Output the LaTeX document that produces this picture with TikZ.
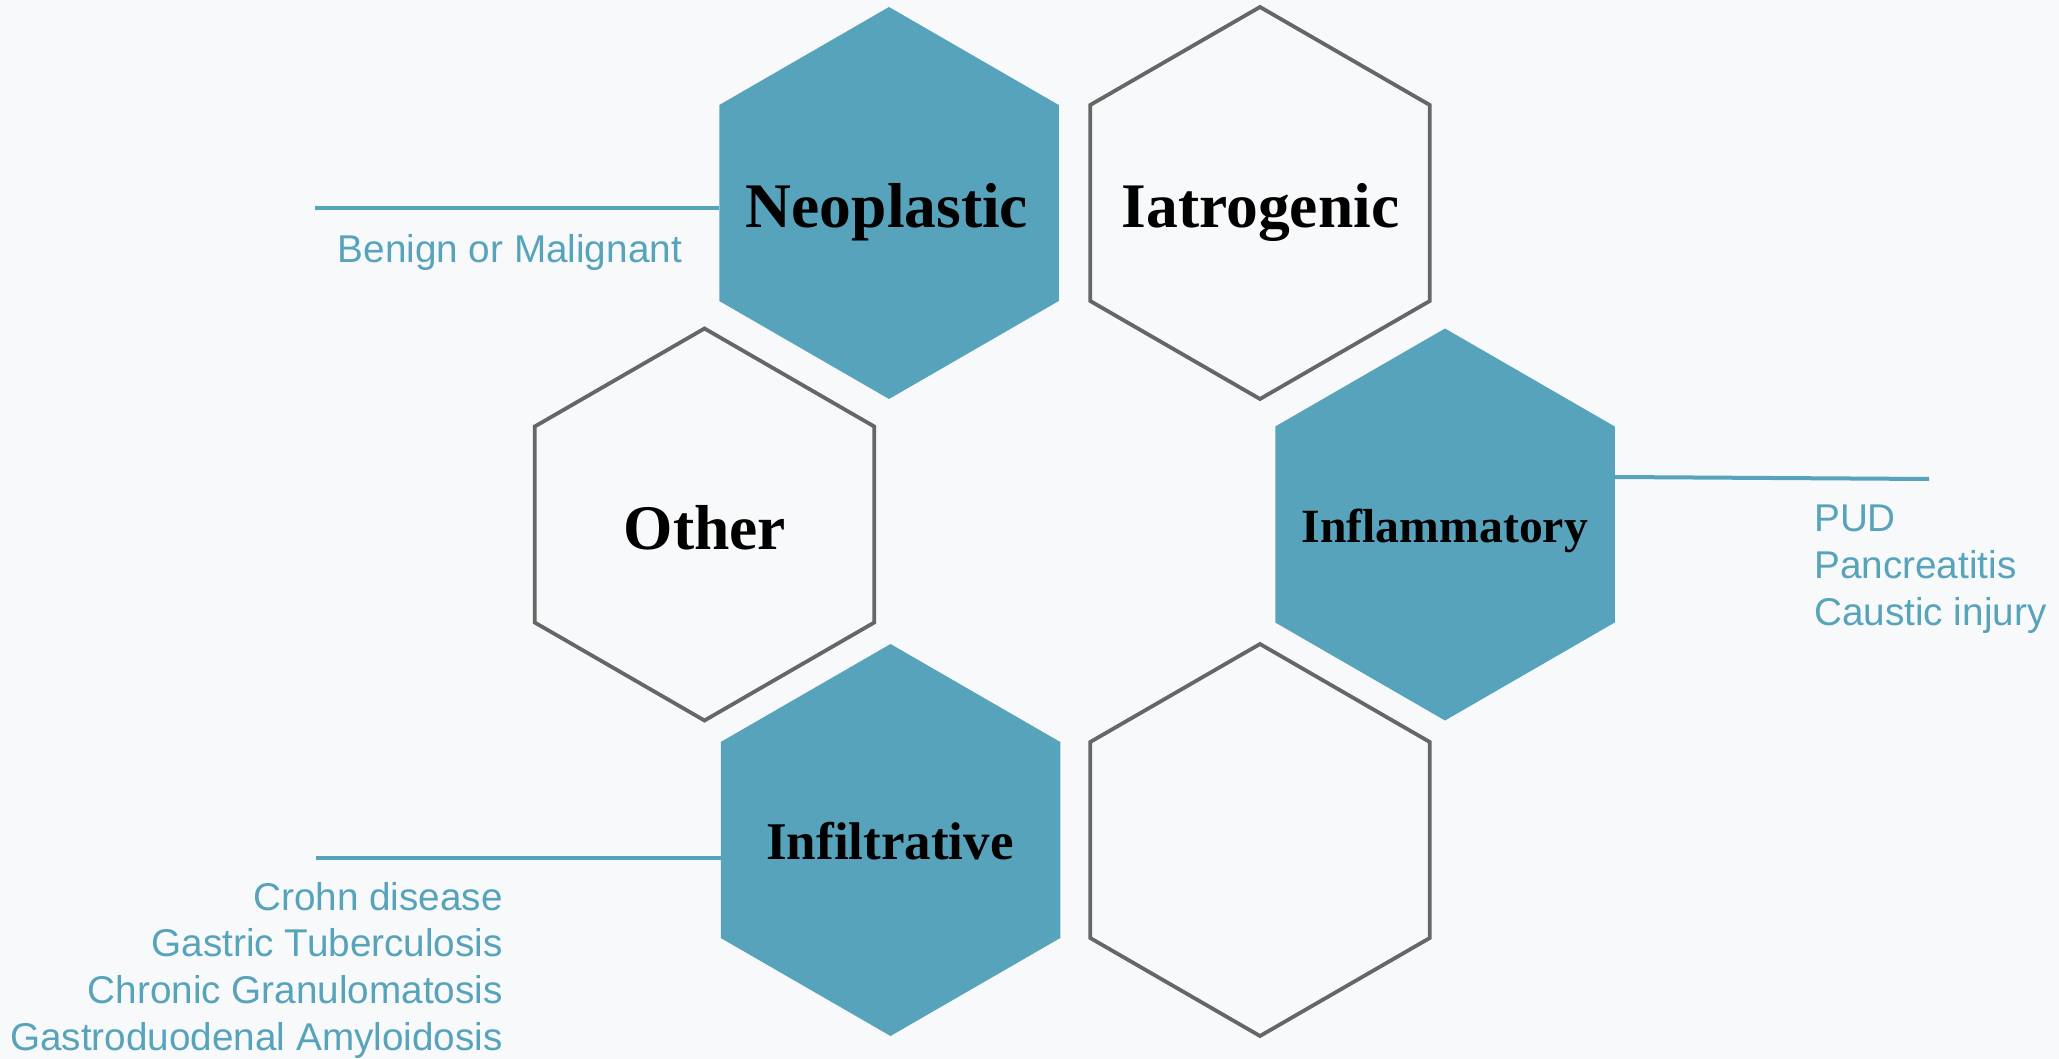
\documentclass[tikz,border=0pt]{standalone}
\usepackage{fontspec}
\setmainfont{Liberation Serif}
\newfontfamily\listfont{Liberation Sans}
\usetikzlibrary{shapes.geometric}
\definecolor{tealfill}{HTML}{58A3BC}
\definecolor{edgegray}{HTML}{666666}
\definecolor{bgc}{HTML}{F7F9FA}
\begin{document}
\begin{tikzpicture}[x=1pt,y=-1pt,
  hexbase/.style={regular polygon, regular polygon sides=6, shape border rotate=30, inner sep=0pt, outer sep=0pt},
  hexfill/.style={hexbase, minimum size=392pt, fill=tealfill, draw=none},
  hexline/.style={hexbase, minimum size=392pt, draw=edgegray, line width=3.8pt},
  link/.style={draw=tealfill, line width=4pt},
  biglab/.style={anchor=base, inner sep=0pt, text=black, font=\bfseries\fontsize{63.5}{70}\selectfont},
  itemtxt/.style={inner sep=0pt, text=tealfill, font=\listfont\fontsize{38.7}{46.7}\selectfont}
]
\useasboundingbox[fill=bgc] (0,0) rectangle (2059,1059);

% hexagons
\node[hexfill] (neo) at (889,203) {};
\node[hexline] (iat) at (1260,203) {};
\node[hexline] (oth) at (704.5,524.5) {};
\node[hexfill] (inf) at (1445,524.5) {};
\node[hexfill] (fil) at (890.5,840) {};
\node[hexline] (emp) at (1260,840) {};

% labels
\node[biglab] (neoL) at (887,227.7) {Neoplastic};
\node[biglab] (iatL) at (1260.5,227.7) {Iatrogenic};
\node[biglab] (othL) at (705,549.3) {Other};
\node[biglab, font=\bfseries\fontsize{47.7}{52}\selectfont] (infL) at (1444.8,542.3) {Inflammatory};
\node[biglab, font=\bfseries\fontsize{53}{58}\selectfont] (filL) at (890,859.3) {Infiltrative};

% connectors
\coordinate (neoEnd) at (315,208);
\draw[link] (neoEnd) -- (neoEnd -| neo.west);
\coordinate (infEnd) at (1929,479);
\draw[link] ([yshift=47.5pt]inf.east) -- (infEnd);
\coordinate (filEnd) at (315.5,858);
\draw[link] (filEnd) -- (filEnd -| fil.west);

% item texts
\node[itemtxt, anchor=base west] (t1) at (337.5,262.5) {Benign or Malignant};

\node[itemtxt, anchor=base west] (p1) at (1814,531.7) {PUD};
\node[itemtxt, anchor=base west] (p2) at (1814,578.3) {Pancreatitis};
\node[itemtxt, anchor=base west] (p3) at (1814,625) {Caustic injury};

\node[itemtxt, anchor=base east] (c1) at (503,910) {Crohn disease};
\node[itemtxt, anchor=base east] (c2) at (503,956.7) {Gastric Tuberculosis};
\node[itemtxt, anchor=base east] (c3) at (503,1003.3) {Chronic Granulomatosis};
\node[itemtxt, anchor=base east] (c4) at (503,1050) {Gastroduodenal Amyloidosis};
\end{tikzpicture}
\end{document}
